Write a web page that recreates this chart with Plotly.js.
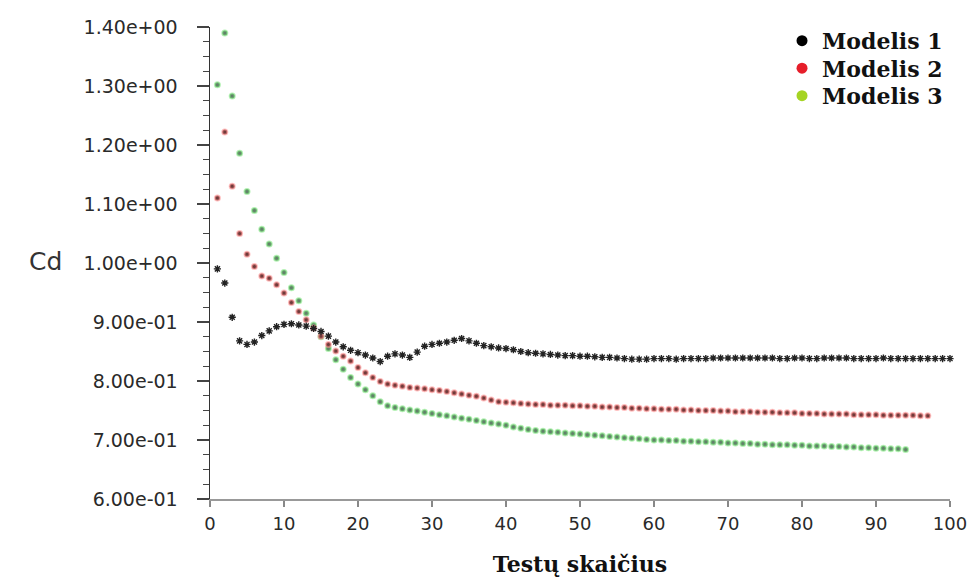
<!DOCTYPE html>
<html>
<head>
<meta charset="utf-8">
<script src="https://cdn.plot.ly/plotly-3.0.1.min.js"></script>
<style>html,body{margin:0;padding:0;background:#fff;}#chart{width:974px;height:581px;}</style>
</head>
<body>
<div id="chart"></div>
<script>
// Test numbers (x) for each model
var testaiM1 = [1,2,3,4,5,6,7,8,9,10,11,12,13,14,15,16,17,18,19,20,21,22,23,24,25,26,27,28,29,30,31,32,33,34,35,36,37,38,39,40,41,42,43,44,45,46,47,48,49,50,51,52,53,54,55,56,57,58,59,60,61,62,63,64,65,66,67,68,69,70,71,72,73,74,75,76,77,78,79,80,81,82,83,84,85,86,87,88,89,90,91,92,93,94,95,96,97,98,99,100];
var testaiM2 = [1,2,3,4,5,6,7,8,9,10,11,12,13,14,15,16,17,18,19,20,21,22,23,24,25,26,27,28,29,30,31,32,33,34,35,36,37,38,39,40,41,42,43,44,45,46,47,48,49,50,51,52,53,54,55,56,57,58,59,60,61,62,63,64,65,66,67,68,69,70,71,72,73,74,75,76,77,78,79,80,81,82,83,84,85,86,87,88,89,90,91,92,93,94,95,96,97];
var testaiM3 = [1,2,3,4,5,6,7,8,9,10,11,12,13,14,15,16,17,18,19,20,21,22,23,24,25,26,27,28,29,30,31,32,33,34,35,36,37,38,39,40,41,42,43,44,45,46,47,48,49,50,51,52,53,54,55,56,57,58,59,60,61,62,63,64,65,66,67,68,69,70,71,72,73,74,75,76,77,78,79,80,81,82,83,84,85,86,87,88,89,90,91,92,93,94];

// Cd values
var cdModelis1 = [0.990,0.966,0.908,0.868,0.862,0.866,0.877,0.885,0.892,0.896,0.897,0.895,0.893,0.889,0.884,0.876,0.866,0.858,0.852,0.848,0.844,0.839,0.833,0.842,0.846,0.844,0.840,0.849,0.859,0.862,0.864,0.866,0.869,0.872,0.868,0.864,0.860,0.858,0.856,0.855,0.853,0.850,0.848,0.847,0.846,0.845,0.844,0.843,0.843,0.842,0.842,0.841,0.840,0.840,0.839,0.838,0.837,0.837,0.837,0.838,0.838,0.838,0.837,0.838,0.838,0.838,0.838,0.839,0.839,0.839,0.839,0.839,0.839,0.839,0.839,0.839,0.838,0.838,0.839,0.839,0.838,0.838,0.839,0.839,0.839,0.839,0.838,0.838,0.838,0.838,0.839,0.838,0.838,0.838,0.838,0.838,0.838,0.838,0.838,0.838];
var cdModelis2 = [1.110,1.222,1.130,1.050,1.015,0.994,0.978,0.974,0.963,0.949,0.933,0.918,0.904,0.890,0.876,0.862,0.851,0.842,0.834,0.823,0.814,0.806,0.799,0.795,0.793,0.791,0.789,0.788,0.787,0.785,0.784,0.782,0.780,0.778,0.776,0.774,0.771,0.768,0.765,0.764,0.763,0.762,0.761,0.760,0.760,0.759,0.759,0.759,0.758,0.758,0.757,0.757,0.756,0.756,0.755,0.755,0.754,0.754,0.753,0.753,0.752,0.752,0.752,0.751,0.751,0.750,0.750,0.750,0.749,0.749,0.748,0.748,0.748,0.747,0.747,0.747,0.746,0.746,0.746,0.745,0.745,0.745,0.744,0.744,0.744,0.744,0.743,0.743,0.743,0.743,0.742,0.742,0.742,0.742,0.742,0.741,0.741];
var cdModelis3 = [1.302,1.390,1.283,1.186,1.121,1.089,1.057,1.032,1.008,0.984,0.958,0.936,0.915,0.895,0.875,0.855,0.836,0.820,0.806,0.795,0.785,0.775,0.765,0.758,0.755,0.753,0.751,0.749,0.747,0.745,0.743,0.741,0.739,0.737,0.735,0.733,0.731,0.729,0.727,0.725,0.722,0.720,0.718,0.716,0.715,0.714,0.713,0.712,0.711,0.710,0.709,0.708,0.707,0.706,0.705,0.704,0.703,0.702,0.701,0.700,0.700,0.699,0.699,0.698,0.698,0.697,0.697,0.696,0.696,0.695,0.695,0.694,0.694,0.693,0.693,0.692,0.692,0.692,0.691,0.691,0.690,0.690,0.690,0.689,0.689,0.688,0.688,0.687,0.687,0.686,0.686,0.685,0.685,0.684];

var seriesNames = ["Modelis 1", "Modelis 2", "Modelis 3"];
var yTickVals = [0.6,0.7,0.8,0.9,1.0,1.1,1.2,1.3,1.4];
var yTickText = ["6.00e-01","7.00e-01","8.00e-01","9.00e-01","1.00e+00","1.10e+00","1.20e+00","1.30e+00","1.40e+00"];
var xTickVals = [0,10,20,30,40,50,60,70,80,90,100];

var traces = [
  {x: testaiM3, y: cdModelis3, mode: 'markers', type: 'scatter', showlegend: false, cliponaxis: false,
   marker: {size: 5, color: '#62806a', line: {color: 'rgba(120,230,120,0.55)', width: 2}}},
  {x: testaiM2, y: cdModelis2, mode: 'markers', type: 'scatter', showlegend: false, cliponaxis: false,
   marker: {size: 5, color: '#6e3b3b', line: {color: 'rgba(255,140,140,0.55)', width: 2}}},
  {x: testaiM1, y: cdModelis1, mode: 'markers', type: 'scatter', showlegend: false, cliponaxis: false,
   marker: {symbol: 'asterisk-open', size: 6, color: '#222', line: {color: '#222', width: 1.4}}},
  {x: [null], y: [null], mode: 'markers', type: 'scatter', name: seriesNames[0],
   marker: {size: 11, color: '#000000'}},
  {x: [null], y: [null], mode: 'markers', type: 'scatter', name: seriesNames[1],
   marker: {size: 11, color: '#e61e2a'}},
  {x: [null], y: [null], mode: 'markers', type: 'scatter', name: seriesNames[2],
   marker: {size: 11, color: '#a5d423'}}
];

var layout = {
  width: 974, height: 581,
  margin: {l: 210, r: 24, t: 27, b: 82},
  paper_bgcolor: '#fff', plot_bgcolor: '#fff',
  showlegend: true,
  legend: {x: 0.773, y: 1.015, xanchor: 'left', yanchor: 'top', bgcolor: 'rgba(0,0,0,0)',
           itemwidth: 30, tracegroupgap: 0,
           font: {family: 'DejaVu Serif', size: 22, color: '#111', weight: 'bold'}},
  xaxis: {range: [0, 100], tickvals: xTickVals, showgrid: false, zeroline: false,
          showline: true, linecolor: '#999', linewidth: 2,
          ticks: 'outside', ticklen: 6, tickcolor: '#888', tickwidth: 1.5,
          ticklabelstandoff: 1,
          tickfont: {family: 'DejaVu Sans', size: 18, color: '#2a2a2a'},
          title: {text: 'Testų skaičius', standoff: 24,
                  font: {family: 'DejaVu Serif', size: 22, color: '#111', weight: 'bold'}}},
  yaxis: {range: [0.6, 1.4], tickvals: yTickVals, ticktext: yTickText, showgrid: false, zeroline: false,
          showline: true, linecolor: '#333', linewidth: 1.5,
          ticks: 'outside', ticklen: 12, tickcolor: '#444', tickwidth: 1.5,
          ticklabelstandoff: 15,
          minor: {dtick: 0.025, ticks: 'outside', ticklen: 6, tickcolor: '#444', tickwidth: 1.2},
          tickfont: {family: 'DejaVu Sans', size: 19, color: '#2a2a2a'}},
  annotations: [{text: 'Cd', xref: 'paper', yref: 'paper', x: -0.222, y: 0.504,
                 xanchor: 'center', yanchor: 'middle', showarrow: false,
                 font: {family: 'DejaVu Sans', size: 25, color: '#333'}}]
};

var gd = document.getElementById('chart');
Plotly.newPlot(gd, traces, layout, {displayModeBar: false, staticPlot: true}).then(function () {
  // tighten legend row spacing to match the reference
  var items = gd.querySelectorAll('.legend .traces');
  var y0 = null;
  items.forEach(function (el, i) {
    var t = el.getAttribute('transform') || '';
    var m = t.match(/translate\(([-\d.]+)[ ,]+([-\d.]+)\)/);
    if (!m) return;
    var xv = parseFloat(m[1]), yv = parseFloat(m[2]);
    if (y0 === null) y0 = yv;
    el.setAttribute('transform', 'translate(' + xv + ',' + (y0 + i * 27.5) + ')');
  });
});
</script>
</body>
</html>
